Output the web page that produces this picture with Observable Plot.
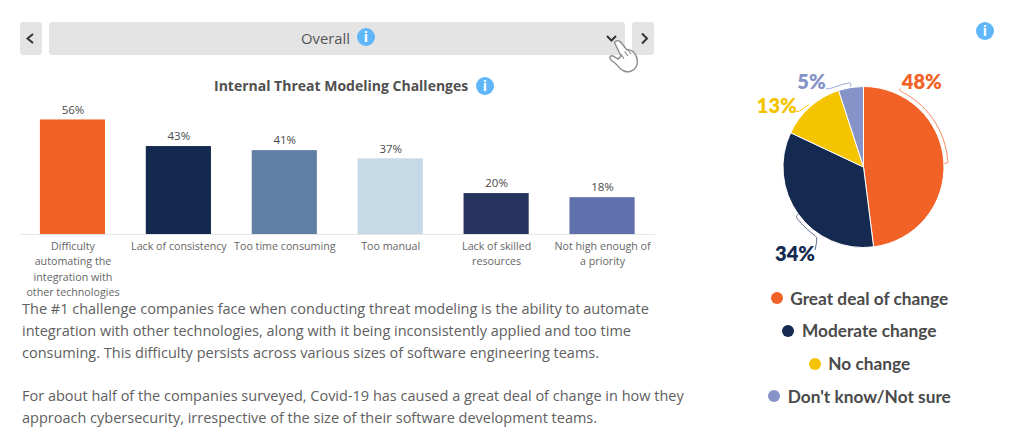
<!DOCTYPE html>
<html><head><meta charset="utf-8">
<script src="https://cdn.jsdelivr.net/npm/d3@7"></script>
<script src="https://cdn.jsdelivr.net/npm/@observablehq/plot@0.6"></script>
<style>
html,body{margin:0;padding:0;background:#fff;width:1024px;height:429px;overflow:hidden;font-family:"Open Sans",sans-serif;color:#555}
.abs{position:absolute}
.btn{position:absolute;background:#e4e4e4;border-radius:3px;top:22px;height:33px}
.info{position:absolute;width:18px;height:18px;border-radius:50%;background:#5fb6f8;color:#fff;font:700 14px/18px "Open Sans",sans-serif;text-align:center}
#para{position:absolute;left:22px;top:297.500px;width:680px;font-size:14.5px;line-height:22px;color:#606060}
#para p{margin:0 0 21px;white-space:nowrap}
#legend{position:absolute;left:699.5px;width:320px;top:281.500px}
.li{position:absolute;left:0;width:320px;height:33px;display:flex;justify-content:center;align-items:center;font:700 17.3px "Lato",sans-serif;color:#4a4a4a;white-space:nowrap}
.li i{display:inline-block;width:12px;height:12px;border-radius:50%;margin-right:7.5px}
svg{display:block;overflow:visible}
</style></head><body>
<div class="btn" style="left:20px;width:22px"></div>
<div class="btn" style="left:49px;width:576px"></div>
<div class="btn" style="left:632px;width:22px"></div>
<div class="abs" style="left:49px;width:576px;top:22px;height:33px;padding-right:23px;box-sizing:border-box;text-align:center;line-height:33px;font-size:14.8px;color:#555">Overall</div>
<div class="info" style="left:357px;top:28px">i</div>
<div class="abs" id="title" style="left:214px;top:76px;font-weight:700;font-size:14px;line-height:20px;color:#505050;white-space:nowrap">Internal Threat Modeling Challenges</div>
<div class="info" style="left:476px;top:77px">i</div>
<div class="info" style="left:976px;top:22px">i</div>
<div id="bars" class="abs" style="left:0;top:90px"></div>
<div id="pie" class="abs" style="left:740px;top:60px"></div>
<div id="para">
<p>The #1 challenge companies face when conducting threat modeling is the ability to automate<br>integration with other technologies, along with it being inconsistently applied and too time<br>consuming. This difficulty persists across various sizes of software engineering teams.</p>
<p>For about half of the companies surveyed, Covid-19 has caused a great deal of change in how they<br>approach cybersecurity, irrespective of the size of their software development teams.</p>
</div>
<div id="legend"></div>
<svg class="abs" style="left:0;top:0;pointer-events:none" width="1024" height="90" fill="none">
<path d="M27.5 34 L33 38.5 L27.5 43" stroke="#333" stroke-width="2" transform="translate(60.5,0) scale(-1,1)"/>
<path d="M642 33.500 L647 38.500 L642 43.500" stroke="#333" stroke-width="2"/>
<path d="M607 36 L611.500 40.500 L616 36" stroke="#333" stroke-width="2"/>
<path d="M614.500 42.500 C616 40 619 40 621 42.500 L627 50 C630 49.500 633 51 635 54 C638 58 638 64 636 67 C634 71 628 73 624 71 C620 70 619 67 616 64 L611 60 C609 58 610 55 613 56 L618 59 L621 56 Z" fill="#fff" stroke="#8c8c8c" stroke-width="1.400"/>
<path d="M621 54 L624 59 M624.500 51.500 L628 56 M628 50 L631 54" stroke="#8c8c8c" stroke-width="1.200"/>
</svg>
<script>
// Bar chart data
const categories = ["Difficulty automating", "Lack of consistency", "Too time consuming", "Too manual", "Lack of skilled resources", "Not high enough"];
const tickLabels = ["Difficulty\nautomating the\nintegration with\nother technologies", "Lack of consistency", "Too time consuming", "Too manual", "Lack of skilled\nresources", "Not high enough of\na priority"];
const barValues = [56, 43, 41, 37, 20, 18];
const barColors = ["#F26125", "#14294F", "#617FA5", "#C6D9E7", "#26335F", "#6070AC"];
// Pie data
const pieNames = ["Great deal of change", "Moderate change", "No change", "Don't know/Not sure"];
const pieValues = [48, 34, 13, 5];
const pieColors = ["#F26125", "#142A50", "#F5C400", "#8593C8"];

const barRows = categories.map((c, i) => ({c, v: barValues[i], label: tickLabels[i]}));
document.getElementById("bars").append(Plot.plot({
  width: 655, height: 215,
  marginLeft: 19.5, marginRight: 0, marginTop: 0, marginBottom: 71,
  style: {background: "transparent", fontFamily: "'Open Sans',sans-serif", overflow: "visible"},
  x: {domain: categories, paddingInner: 0.385, paddingOuter: 0.1925, round: false, axis: null},
  y: {domain: [0, 70.4], axis: null},
  color: {domain: categories, range: barColors},
  marks: [
    Plot.barY(barRows, {x: "c", y: "v", fill: "c"}),
    Plot.ruleY([0], {stroke: "#e6e6e6", strokeWidth: 1}),
    Plot.text(barRows, {x: "c", y: "v", text: d => d.v + "%", dy: -10, fontSize: 11.5, fill: "#4a4a4a"}),
    Plot.text(barRows, {x: "c", y: 0, text: "label", lineAnchor: "top", dy: 5, fontSize: 10.7, lineHeight: 1.42, fill: "#666"})
  ]
}));

// Pie drawn from the values, with its call-out lines
const pieRows = pieNames.map((n, i) => ({n, v: pieValues[i]}));
const cx = 123.5, cy = 107, R = 80.5;
const slices = d3.pie().sort(null).value(d => d.v)(pieRows);
const deg = a => a * Math.PI / 180;
const pt = (a, r) => [cx + r * Math.sin(deg(a)), cy - r * Math.cos(deg(a))];
const curve = d3.line().curve(d3.curveBasis);
const leaders = [
  {color: "#F98A5E", pts: [pt(25,87), pt(25,84.500), ...d3.range(27, 88, 4).map(a => pt(a,84.500)), pt(87,84.500), pt(87.500,81)]},
  {color: "#5E6E8C", pts: [pt(234,81), pt(234,84), ...d3.range(231, 213, -3).map(a => pt(a,84)), pt(213,84), [75,190]]},
  {color: "#F5C400", pts: [[53,51.700],[60,51.700],[65,46.700],[69,45]]},
  {color: "#9BA6D4", pts: [[86,28.700],[90.700,28.700],[100,25],[110,22.700],[110.700,22.700],[110.700,26.700]]}
];
const labelSpots = [[181.300, 22], [54.500, 194.300], [36.300, 46], [71, 22]];
const pieMark = () => {
  const g = d3.create("svg:g");
  const arc = d3.arc().innerRadius(0).outerRadius(R);
  g.selectAll("path.s").data(slices).join("path").attr("class", "s")
    .attr("transform", `translate(${cx},${cy})`)
    .attr("d", arc).attr("fill", (d, i) => pieColors[i]).attr("stroke", "#fff").attr("stroke-width", 1);
  g.selectAll("path.l").data(leaders).join("path").attr("class", "l")
    .attr("d", d => curve(d.pts)).attr("fill", "none").attr("stroke", d => d.color).attr("stroke-width", 1);
  return g.node();
};
document.getElementById("pie").append(Plot.plot({
  width: 284, height: 210, margin: 0,
  style: {background: "transparent", overflow: "visible"},
  x: {domain: [0, 284], range: [0, 284], axis: null},
  y: {domain: [0, 210], range: [0, 210], axis: null},
  marks: [
    pieMark,
    Plot.text(pieRows, {
      x: (d, i) => labelSpots[i][0], y: (d, i) => labelSpots[i][1],
      text: d => d.v + "%", fill: (d, i) => pieColors[i],
      fontFamily: "Lato, sans-serif", fontWeight: 800, fontSize: 20
    })
  ]
}));

// Legend
const legendEl = document.getElementById("legend");
pieNames.forEach((n, i) => {
  const row = document.createElement("div");
  row.className = "li";
  row.style.top = (i * 32.8) + "px";
  row.innerHTML = `<i style="background:${pieColors[i]}"></i><span>${n}</span>`;
  legendEl.append(row);
});
</script>
</body></html>
